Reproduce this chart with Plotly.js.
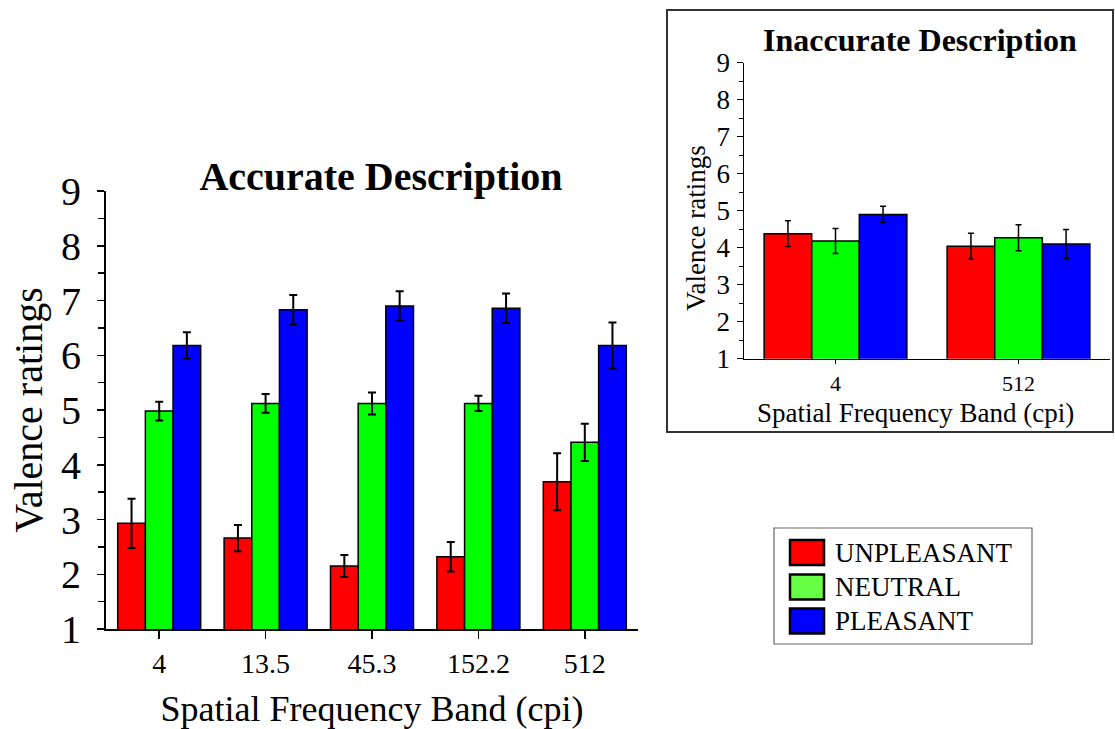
<!DOCTYPE html>
<html>
<head>
<meta charset="utf-8">
<script src="https://cdn.plot.ly/plotly-3.0.1.min.js"></script>
<style>
html,body{margin:0;padding:0;background:#fff;}
#chart{width:1115px;height:729px;}
</style>
</head>
<body>
<div id="chart"></div>
<script>
// ---- Data: Accurate Description ----
const categories = ['4', '13.5', '45.3', '152.2', '512'];
const unpleasant = [2.93, 2.66, 2.15, 2.32, 3.69];
const unpleasantErr = [0.45, 0.24, 0.20, 0.27, 0.52];
const neutral = [4.98, 5.12, 5.12, 5.12, 4.41];
const neutralErr = [0.17, 0.17, 0.20, 0.14, 0.34];
const pleasant = [6.18, 6.83, 6.90, 6.86, 6.18];
const pleasantErr = [0.24, 0.27, 0.27, 0.27, 0.42];

// ---- Data: Inaccurate Description ----
const inacCategories = ['4', '512'];
const inacUnpleasant = [4.38, 4.04];
const inacUnpleasantErr = [0.35, 0.35];
const inacNeutral = [4.18, 4.27];
const inacNeutralErr = [0.34, 0.35];
const inacPleasant = [4.90, 4.10];
const inacPleasantErr = [0.22, 0.39];

const seriesNames = ['UNPLEASANT', 'NEUTRAL', 'PLEASANT'];
const seriesColors = ['#ff0000', '#00ff00', '#0000ff'];
const legendColors = ['#ff0000', '#66ff44', '#0000ff'];

const FONT = 'Liberation Serif, Times New Roman, serif';
const W = 1115, H = 729;
const px = v => v / W;
const py = v => (H - v) / H;

function barTrace(x, y, err, i, xa, ya, errW, errT) {
  return {
    type: 'bar', x: x, y: y, name: seriesNames[i],
    xaxis: xa, yaxis: ya, showlegend: false,
    marker: {color: seriesColors[i], line: {color: '#000', width: 1.5}},
    error_y: {type: 'data', array: err, visible: true, color: '#000', thickness: errT, width: errW}
  };
}

const mainVals = [unpleasant, neutral, pleasant];
const mainErrs = [unpleasantErr, neutralErr, pleasantErr];
const inVals = [inacUnpleasant, inacNeutral, inacPleasant];
const inErrs = [inacUnpleasantErr, inacNeutralErr, inacPleasantErr];

const traces = [];
for (let i = 0; i < 3; i++) traces.push(barTrace(categories, mainVals[i], mainErrs[i], i, 'x', 'y', 4, 2));
for (let i = 0; i < 3; i++) traces.push(barTrace(inacCategories, inVals[i], inErrs[i], i, 'x2', 'y2', 3, 1.5));

const shapes = [
  // inset frame
  {type: 'rect', xref: 'paper', yref: 'paper', x0: px(667), x1: px(1113), y0: py(432), y1: py(10),
   line: {color: '#333', width: 2}, fillcolor: 'rgba(0,0,0,0)'},
  // legend frame
  {type: 'rect', xref: 'paper', yref: 'paper', x0: px(774), x1: px(1032), y0: py(644), y1: py(528),
   line: {color: '#666', width: 1.2}, fillcolor: 'rgba(0,0,0,0)'}
];
const annotations = [
  {text: '<b>Inaccurate Description</b>', xref: 'paper', yref: 'paper', x: px(920), y: py(40),
   xanchor: 'center', yanchor: 'middle', showarrow: false, font: {family: FONT, size: 32, color: '#000'}},
  {text: 'Spatial Frequency Band (cpi)', xref: 'paper', yref: 'paper', x: px(915), y: py(413),
   xanchor: 'center', yanchor: 'middle', showarrow: false, font: {family: FONT, size: 27, color: '#000'}},
  {text: 'Valence ratings', xref: 'paper', yref: 'paper', x: px(696), y: py(228), textangle: -90,
   xanchor: 'center', yanchor: 'middle', showarrow: false, font: {family: FONT, size: 27, color: '#000'}}
];
const rowCenters = [552.5, 587, 621];
for (let i = 0; i < 3; i++) {
  shapes.push({type: 'rect', xref: 'paper', yref: 'paper', x0: px(790), x1: px(824),
    y0: py(rowCenters[i] + 12.5), y1: py(rowCenters[i] - 12.5),
    line: {color: '#000', width: 2.5}, fillcolor: legendColors[i]});
  annotations.push({text: seriesNames[i], xref: 'paper', yref: 'paper', x: px(833), y: py(rowCenters[i]),
    xanchor: 'left', yanchor: 'middle', showarrow: false, font: {family: FONT, size: 27, color: '#000'}});
}

const layout = {
  width: W, height: H,
  margin: {l: 0, r: 0, t: 0, b: 0},
  paper_bgcolor: '#fff', plot_bgcolor: '#fff',
  font: {family: FONT, color: '#000'},
  barmode: 'group', bargap: 0.22, bargroupgap: 0,
  showlegend: false,
  title: {text: '<b>Accurate Description</b>', xref: 'paper', x: px(381), y: py(176),
          xanchor: 'center', yanchor: 'middle', font: {family: FONT, size: 40, color: '#000'}},
  xaxis: {domain: [px(106), px(638)], anchor: 'y', type: 'category', range: [-0.5, 4.5],
          showline: true, linecolor: '#000', linewidth: 2, ticks: 'outside', ticklen: 8, tickwidth: 1.5,
          tickcolor: '#000', tickfont: {family: FONT, size: 28}, showgrid: false, zeroline: false,
          title: {text: 'Spatial Frequency Band (cpi)', font: {family: FONT, size: 36}, standoff: 18}},
  yaxis: {domain: [py(629), py(191)], anchor: 'x', range: [1, 9], tickvals: [1,2,3,4,5,6,7,8,9],
          showline: true, linecolor: '#000', linewidth: 2, ticks: 'outside', ticklen: 7, tickwidth: 1.5,
          tickcolor: '#000', tickfont: {family: FONT, size: 40}, showgrid: false, zeroline: false,
          ticklabelstandoff: 8,
          minor: {tickvals: [1.5,2.5,3.5,4.5,5.5,6.5,7.5,8.5], ticks: 'outside', ticklen: 6, tickwidth: 1.5, tickcolor: '#000', showgrid: false},
          title: {text: 'Valence ratings', font: {family: FONT, size: 40}, standoff: 6}},
  xaxis2: {domain: [px(744), px(1110)], anchor: 'y2', type: 'category', range: [-0.5, 1.5],
          showline: true, linecolor: '#000', linewidth: 1.5, ticks: 'outside', ticklen: 4, tickwidth: 1.2,
          tickcolor: '#000', tickfont: {family: FONT, size: 22}, showgrid: false, zeroline: false},
  yaxis2: {domain: [py(358.7), py(62.7)], anchor: 'x2', range: [1, 9], tickvals: [1,2,3,4,5,6,7,8,9],
          showline: true, linecolor: '#000', linewidth: 1.5, ticks: 'outside', ticklen: 6, tickwidth: 1.2,
          tickcolor: '#000', tickfont: {family: FONT, size: 27}, showgrid: false, zeroline: false,
          ticklabelstandoff: 1,
          minor: {tickvals: [1.5,2.5,3.5,4.5,5.5,6.5,7.5,8.5], ticks: 'outside', ticklen: 4, tickwidth: 1.2, tickcolor: '#000', showgrid: false}},
  shapes: shapes,
  annotations: annotations
};

Plotly.newPlot('chart', traces, layout, {displayModeBar: false, staticPlot: true});
</script>
</body>
</html>
